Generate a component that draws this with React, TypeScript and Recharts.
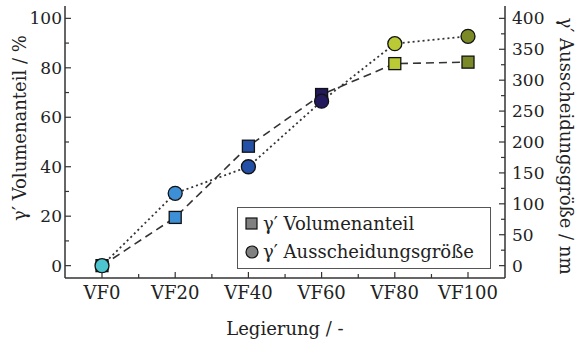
import { LineChart, Line, XAxis, YAxis, Legend, Label } from "recharts";

const categories = ["VF0", "VF20", "VF40", "VF60", "VF80", "VF100"];
// γ' Volumenanteil in %
const volumeFraction = [0, 19.5, 48.3, 69.2, 81.7, 82.3];
// γ' Ausscheidungsgröße in nm
const precipitateSize = [0, 117, 160, 266, 359, 371];

const leftTicks = [0, 10, 20, 30, 40, 50, 60, 70, 80, 90, 100];
const rightTicks = [0, 25, 50, 75, 100, 125, 150, 175, 200, 225, 250, 275, 300, 325, 350, 375, 400];

const squareColors = ["#222222", "#3d8fd6", "#2350a6", "#221a5c", "#b9ca35", "#7b8a26"];
const circleColors = ["#4cc5cf", "#3d8fd6", "#2350a6", "#221a5c", "#b9ca35", "#7b8a26"];

const data = categories.map((name, i) => ({
  name,
  volume: volumeFraction[i],
  size: precipitateSize[i],
}));

const FONT = "'DejaVu Serif', serif";
const INK = "#333";
const STEP = 440 / 6; // category spacing on the x axis

const SquareDot = (props: any) => {
  const { cx, cy, index } = props;
  if (cx == null || cy == null) return null;
  return (
    <rect
      key={`sq-${index}`}
      x={cx - 6}
      y={cy - 6}
      width={12}
      height={12}
      fill={squareColors[index]}
      stroke="#111"
      strokeWidth={1.3}
    />
  );
};

const CircleDot = (props: any) => {
  const { cx, cy, index } = props;
  if (cx == null || cy == null) return null;
  return (
    <circle
      key={`ci-${index}`}
      cx={cx}
      cy={cy}
      r={7}
      fill={circleColors[index]}
      stroke="#111"
      strokeWidth={1.3}
    />
  );
};

const LeftTick = (props: any) => {
  const { x, y, payload } = props;
  const major = payload.value % 20 === 0;
  return (
    <g>
      <line x1={x} x2={x + (major ? 6 : 4)} y1={y} y2={y} stroke={INK} strokeWidth={1.2} />
      {major && (
        <text x={x - 3} y={y} textAnchor="end" dominantBaseline="central" fill="#222" fontSize={17} fontFamily={FONT}>
          {payload.value}
        </text>
      )}
    </g>
  );
};

const RightTick = (props: any) => {
  const { x, y, payload } = props;
  const major = payload.value % 50 === 0;
  return (
    <g>
      <line x1={x} x2={x - (major ? 6 : 4)} y1={y} y2={y} stroke={INK} strokeWidth={1.2} />
      {major && (
        <text x={x + 7} y={y} textAnchor="start" dominantBaseline="central" fill="#222" fontSize={17} fontFamily={FONT}>
          {payload.value}
        </text>
      )}
    </g>
  );
};

const BottomTick = (props: any) => {
  const { x, y, payload, index } = props;
  return (
    <g>
      <line x1={x} x2={x} y1={y} y2={y - 6} stroke={INK} strokeWidth={1.2} />
      {index < categories.length - 1 && (
        <line x1={x + STEP / 2} x2={x + STEP / 2} y1={y} y2={y - 4} stroke={INK} strokeWidth={1.2} />
      )}
      <text x={x} y={y + 21} textAnchor="middle" fill="#222" fontSize={18} fontFamily={FONT}>
        {payload.value}
      </text>
    </g>
  );
};

// rotated axis title at a fixed centre point
const axisTitle = (text: string, cx: number, cy: number, angle: number) => () => (
  <text
    x={cx}
    y={cy}
    transform={`rotate(${angle}, ${cx}, ${cy})`}
    textAnchor="middle"
    dominantBaseline="central"
    fill="#222"
    fontSize={18}
    fontFamily={FONT}
  >
    {text}
  </text>
);

const LegendBox = () => (
  <div
    style={{
      border: "1px solid #555",
      background: "#fff",
      padding: "2px 8px 2px 7px",
      fontFamily: FONT,
      fontSize: 18,
      color: "#222",
      lineHeight: "28px",
      boxSizing: "border-box",
      width: 254,
    }}
  >
    <div style={{ display: "flex", alignItems: "center" }}>
      <svg width={18} height={16}>
        <rect x={1} y={2} width={11} height={11} fill="#808080" stroke="#111" strokeWidth={1.2} />
      </svg>
      <span>γ′ Volumenanteil</span>
    </div>
    <div style={{ display: "flex", alignItems: "center" }}>
      <svg width={18} height={16}>
        <circle cx={7} cy={8} r={6} fill="#808080" stroke="#111" strokeWidth={1.2} />
      </svg>
      <span>γ′ Ausscheidungsgröße</span>
    </div>
  </div>
);

export default function App() {
  return (
    <div style={{ position: "absolute", left: 0, top: 0, width: 579, height: 344, background: "#fff" }}>
      <LineChart width={579} height={344} data={data} margin={{ top: 6, right: 0, bottom: 0, left: 0 }}>
        <XAxis
          dataKey="name"
          height={66}
          padding={{ left: 37, right: 37 }}
          axisLine={{ stroke: INK, strokeWidth: 1.5 }}
          tickLine={false}
          tickSize={0}
          tickMargin={0}
          tick={BottomTick}
          interval={0}
        >
          <Label content={axisTitle("Legierung / -", 285, 328, 0)} />
        </XAxis>
        <XAxis xAxisId="top" dataKey="name" orientation="top" height={0} tick={false} tickLine={false} axisLine={{ stroke: INK, strokeWidth: 1.5 }} />
        <YAxis
          yAxisId="left"
          width={65}
          domain={[-5, 105]}
          ticks={leftTicks}
          interval={0}
          allowDataOverflow
          axisLine={{ stroke: INK, strokeWidth: 1.5 }}
          tickLine={false}
          tickSize={0}
          tickMargin={0}
          tick={LeftTick}
        >
          <Label content={axisTitle("γ′ Volumenanteil / %", 19, 128, -90)} />
        </YAxis>
        <YAxis
          yAxisId="right"
          orientation="right"
          width={74}
          domain={[-20, 420]}
          ticks={rightTicks}
          interval={0}
          allowDataOverflow
          axisLine={{ stroke: INK, strokeWidth: 1.5 }}
          tickLine={false}
          tickSize={0}
          tickMargin={0}
          tick={RightTick}
        >
          <Label content={axisTitle("γ′ Ausscheidungsgröße / nm", 566, 146, 90)} />
        </YAxis>
        <Legend
          layout="horizontal"
          verticalAlign="middle"
          align="center"
          content={LegendBox}
          wrapperStyle={{ left: 237, top: 207, width: 254 }}
        />
        <Line
          yAxisId="left"
          dataKey="volume"
          stroke={INK}
          strokeWidth={1.6}
          strokeDasharray="8 5"
          dot={SquareDot}
          activeDot={false}
          isAnimationActive={false}
        />
        <Line
          yAxisId="right"
          dataKey="size"
          stroke={INK}
          strokeWidth={1.8}
          strokeDasharray="2 3"
          dot={CircleDot}
          activeDot={false}
          isAnimationActive={false}
        />
      </LineChart>
    </div>
  );
}
